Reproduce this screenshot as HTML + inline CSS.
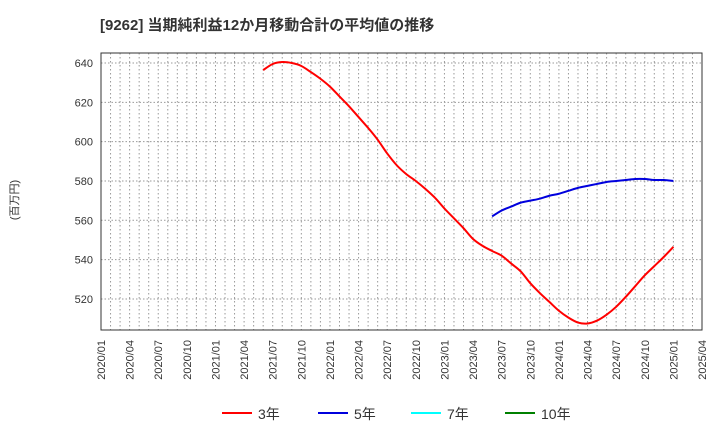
<!DOCTYPE html>
<html><head><meta charset="utf-8"><style>
body{margin:0;background:#fff;}
svg{display:block;font-family:"Liberation Sans","Noto Sans CJK JP",sans-serif;}
</style></head><body>
<svg id="c" width="720" height="440">
<text x="100" y="30" font-size="15" font-weight="bold" fill="#333">[9262]  当期純利益12か月移動合計の平均値の推移</text>
<text x="18" y="200" font-size="11" fill="#333" transform="rotate(-90 18 200)" text-anchor="middle">(百万円)</text>
<g id="grid"></g><g id="series"></g><g id="axes"></g>
<g id="legend"></g>
</svg>
<script>
const yTicks=[520,540,560,580,600,620,640];
const xTickLabels=["2020/01","2020/04","2020/07","2020/10","2021/01","2021/04","2021/07","2021/10","2022/01","2022/04","2022/07","2022/10","2023/01","2023/04","2023/07","2023/10","2024/01","2024/04","2024/07","2024/10","2025/01","2025/04"];
const s3Start=17;
const s3Values=[636.4,639.5,640.5,640,638.5,635.4,632,628,623,618,612.5,607,601,594,588,583.5,580,576,571.5,566,561,556,550.5,547,544.4,542,538,534,528,523,518.5,514,510.5,508,507.5,509,512,516,521,526.5,532,536.7,541.4,546.5];
const s5Start=41;
const s5Values=[562,565,567,569,570,571,572.5,573.5,575,576.5,577.5,578.5,579.5,580,580.5,581,581,580.5,580.5,580];
const L=101,R=702,T=53,B=330,vMin=504.2,vMax=645.1,nM=63;
const X=m=>L+m*(R-L)/nM, Y=v=>B-(v-vMin)/(vMax-vMin)*(B-T);
const NS="http://www.w3.org/2000/svg";
function mk(t,a,p){const e=document.createElementNS(NS,t);for(const k in a)e.setAttribute(k,a[k]);p.appendChild(e);return e;}
const g=document.getElementById('grid'),ax=document.getElementById('axes'),sg=document.getElementById('series');
for(let m=1;m<nM;m++){const l=mk('line',{x1:X(m),x2:X(m),y1:T,y2:B,stroke:'#999','stroke-dasharray':'1.5,2.5','stroke-width':1},g);
}
yTicks.forEach(v=>{const l=mk('line',{x1:L,x2:R,y1:Y(v),y2:Y(v),stroke:'#999','stroke-dasharray':'1.5,2','stroke-width':1},g);

const t=mk('text',{x:L-8,y:Y(v)+4,'font-size':11,fill:'#333','text-anchor':'end'},ax);t.textContent=v;
});
xTickLabels.forEach((s,i)=>{const x=X(i*3)+4;const t=mk('text',{x:x,y:340,'font-size':11,fill:'#333','text-anchor':'end',transform:`rotate(-90 ${x} 340)`},ax);t.textContent=s;
});
const fr=mk('rect',{x:L,y:T,width:R-L,height:B-T,fill:'none',stroke:'#333','stroke-width':1},ax);

function line(start,vals,col,name){
const pts=vals.map((v,i)=>[X(start+i),Y(v)]);
let d='M'+pts[0][0]+','+pts[0][1];
for(let i=0;i<pts.length-1;i++){const p0=pts[Math.max(0,i-1)],p1=pts[i],p2=pts[i+1],p3=pts[Math.min(pts.length-1,i+2)];
d+=` C${p1[0]+(p2[0]-p0[0])/6},${p1[1]+(p2[1]-p0[1])/6} ${p2[0]-(p3[0]-p1[0])/6},${p2[1]-(p3[1]-p1[1])/6} ${p2[0]},${p2[1]}`;}
const p=mk('path',{d:d,fill:'none',stroke:col,'stroke-width':2,'stroke-linejoin':'round'},sg);
}
line(s3Start,s3Values,'#ff0000','series-3yr');
line(s5Start,s5Values,'#0000dd','series-5yr');
const lg=document.getElementById('legend');
[["3年","#ff0000",222],["5年","#0000dd",318],["7年","#00ffff",411],["10年","#008000",505]].forEach(([n,c,x])=>{
const l=mk('line',{x1:x,x2:x+30,y1:413,y2:413,stroke:c,'stroke-width':2},lg);

const t=mk('text',{x:x+36,y:419,'font-size':14,fill:'#333'},lg);t.textContent=n;
});
</script>
</body></html>
